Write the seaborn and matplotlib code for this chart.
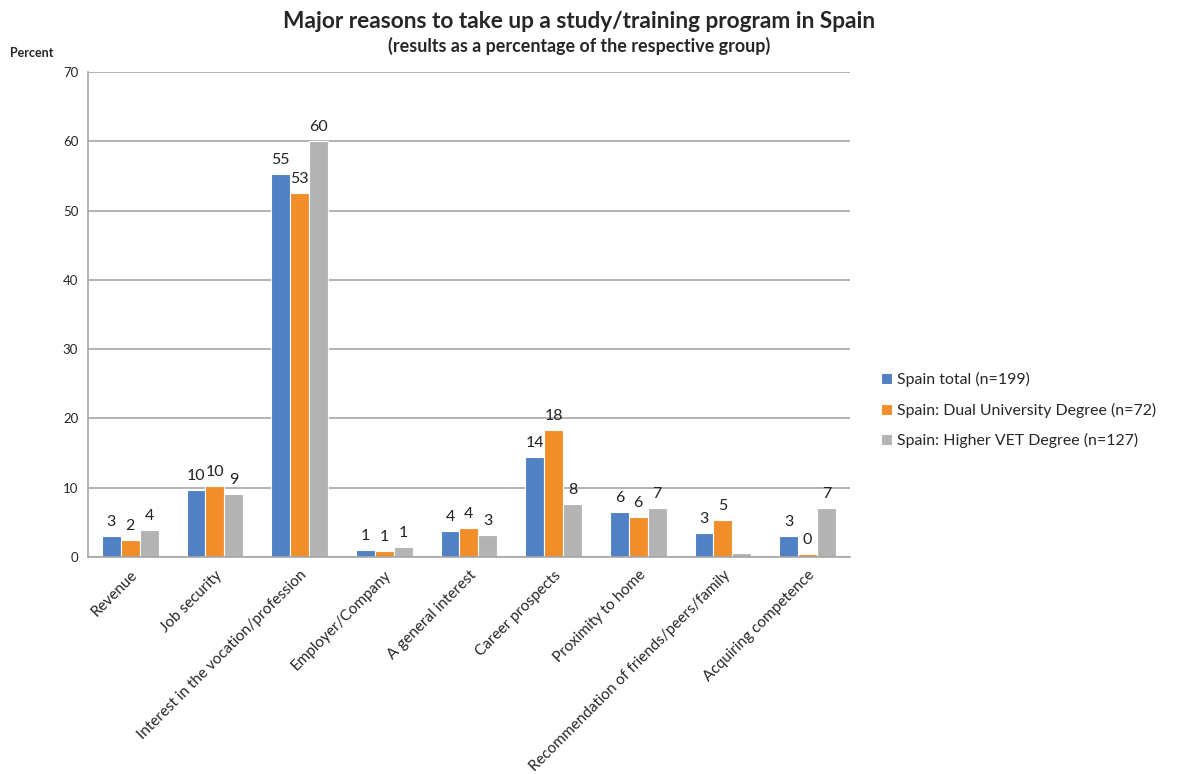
import matplotlib
matplotlib.use("Agg")
import matplotlib.pyplot as plt
import seaborn as sns
import pandas as pd

categories = [
    "Revenue",
    "Job security",
    "Interest in the vocation/profession",
    "Employer/Company",
    "A general interest",
    "Career prospects",
    "Proximity to home",
    "Recommendation of friends/peers/family",
    "Acquiring competence",
]
series_names = [
    "Spain total (n=199)",
    "Spain: Dual University Degree (n=72)",
    "Spain: Higher VET Degree (n=127)",
]
spain_total = [3.0, 9.7, 55.3, 1.0, 3.7, 14.4, 6.5, 3.4, 3.0]
dual_university = [2.4, 10.2, 52.6, 0.8, 4.2, 18.3, 5.8, 5.3, 0.4]
higher_vet = [3.9, 9.1, 60.0, 1.4, 3.2, 7.7, 7.1, 0.6, 7.1]
y_ticks = [0, 10, 20, 30, 40, 50, 60, 70]
colors = ["#4f81c4", "#f18e2a", "#b3b3b3"]

df = pd.DataFrame({
    "category": categories * 3,
    "series": [series_names[0]] * 9 + [series_names[1]] * 9 + [series_names[2]] * 9,
    "value": spain_total + dual_university + higher_vet,
})

sns.set_theme(style="white")
plt.rcParams["font.family"] = ["Lato", "DejaVu Sans"]

fig = plt.figure(figsize=(11.9, 7.74), dpi=100)
ax = fig.add_axes([0.0739, 0.2804, 0.6403, 0.6266])

sns.barplot(data=df, x="category", y="value", hue="series", order=categories,
            hue_order=series_names, palette=colors, width=0.67, ax=ax,
            edgecolor="white", linewidth=0.8, saturation=1, legend=True)

ax.set_ylim(0, 70)
ax.set_yticks(y_ticks)
ax.set_xlim(-0.5, len(categories) - 0.5)
ax.yaxis.grid(True, color="#a6a6a6", linewidth=1.2)
ax.set_axisbelow(True)
for side in ["top", "right"]:
    ax.spines[side].set_visible(False)
ax.spines["left"].set_color("#a6a6a6")
ax.spines["bottom"].set_color("#a6a6a6")
ax.spines["left"].set_linewidth(1.2)
ax.spines["bottom"].set_linewidth(1.2)
ax.tick_params(axis="y", length=3, color="#a6a6a6", labelsize=9.5, pad=4)
ax.tick_params(axis="x", length=0, labelsize=11, pad=8)
ax.set_xlabel("")
ax.set_ylabel("")
plt.setp(ax.get_xticklabels(), rotation=45, ha="right", rotation_mode="anchor")

# value labels (the near-zero grey bar of the recommendation group carries none)
for i, cont in enumerate(ax.containers):
    labels = []
    for j, v in enumerate(cont.datavalues):
        if i == 2 and categories[j].startswith("Recommendation"):
            labels.append("")
        else:
            labels.append(f"{v:.0f}")
    ax.bar_label(cont, labels=labels, padding=5, fontsize=11.5, color="#222222")

leg = ax.legend(loc="upper left", bbox_to_anchor=(0.735, 0.527),
                bbox_transform=fig.transFigure, frameon=False, fontsize=11.4,
                handlelength=0.7, handleheight=0.7, handletextpad=0.3,
                labelspacing=0.95, borderaxespad=0)

fig.text(0.487, 0.972, "Major reasons to take up a study/training program in Spain",
         ha="center", va="center", fontsize=16.3, fontweight="bold")
fig.text(0.487, 0.941, "(results as a percentage of the respective group)",
         ha="center", va="center", fontsize=12.9, fontweight="bold")
fig.text(0.008, 0.931, "Percent", ha="left", va="center", fontsize=9, fontweight="bold")

fig.savefig("out.png", dpi=100)
